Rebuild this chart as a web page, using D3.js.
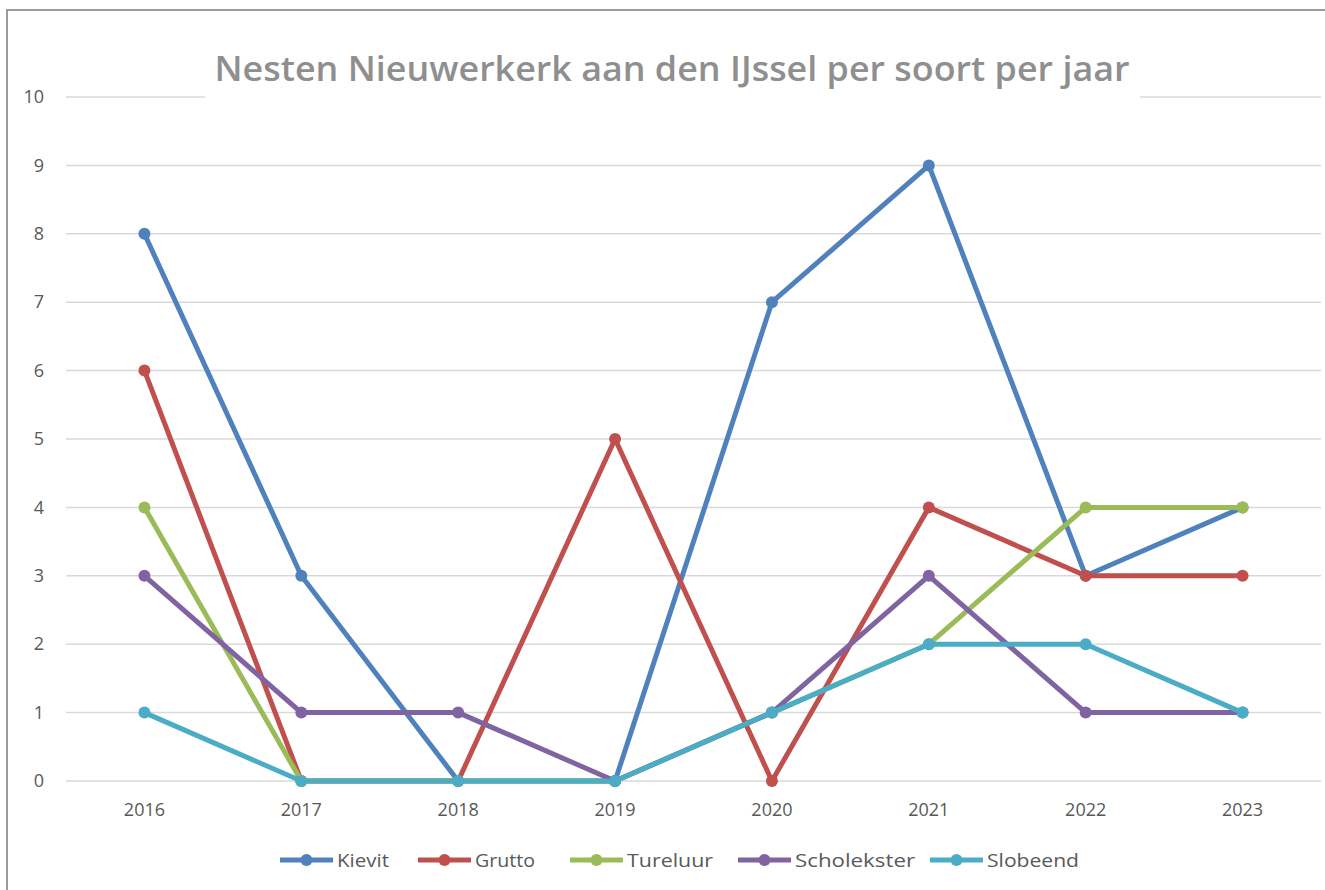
<!DOCTYPE html>
<html>
<head>
<meta charset="utf-8">
<script src="https://cdn.jsdelivr.net/npm/d3@7"></script>
<style>
  body { margin: 0; background: #fff; }
  svg { display: block; }
</style>
</head>
<body>
<svg id="chart"></svg>
<script>
const years = ["2016", "2017", "2018", "2019", "2020", "2021", "2022", "2023"];
const kievit = [8, 3, 0, 0, 7, 9, 3, 4];
const grutto = [6, 0, 0, 5, 0, 4, 3, 3];
const tureluur = [4, 0, 0, 0, 1, 2, 4, 4];
const scholekster = [3, 1, 1, 0, 1, 3, 1, 1];
const slobeend = [1, 0, 0, 0, 1, 2, 2, 1];
const yTicks = [0, 1, 2, 3, 4, 5, 6, 7, 8, 9, 10];

const series = [
  { name: "Kievit", values: kievit, color: "#4f81bd" },
  { name: "Grutto", values: grutto, color: "#c0504d" },
  { name: "Tureluur", values: tureluur, color: "#9bbb59" },
  { name: "Scholekster", values: scholekster, color: "#8064a2" },
  { name: "Slobeend", values: slobeend, color: "#4bacc6" }
];

const width = 1325;
const height = 890;
const margin = { top: 97, right: 4, bottom: 109, left: 66 };

const svg = d3.select("#chart").attr("width", width).attr("height", height);

// chart border
svg.append("rect")
  .attr("x", 7).attr("y", 10)
  .attr("width", width + 20).attr("height", height + 20)
  .attr("fill", "#fff")
  .attr("stroke", "#9a9a9a")
  .attr("stroke-width", 2);

const x = d3.scaleBand()
  .domain(years)
  .range([margin.left, width - margin.right]);

const y = d3.scaleLinear()
  .domain([0, 10])
  .range([height - margin.bottom, margin.top]);

// gridlines
svg.append("g")
  .selectAll("line")
  .data(yTicks)
  .join("line")
  .attr("x1", margin.left)
  .attr("x2", width - margin.right)
  .attr("y1", d => y(d))
  .attr("y2", d => y(d))
  .attr("stroke", "#d9d9d9")
  .attr("stroke-width", 1.5);

// y axis labels
const yAxis = d3.axisLeft(y).tickValues(yTicks).tickSize(0).tickPadding(22);
svg.append("g")
  .attr("transform", `translate(${margin.left},0)`)
  .call(yAxis)
  .call(g => g.select(".domain").remove())
  .call(g => g.selectAll("text")
    .attr("fill", "#595959")
    .style("font-family", "'Open Sans', sans-serif")
    .style("font-size", "18px"));

// x axis labels
const xAxis = d3.axisBottom(x).tickSize(0).tickPadding(22);
svg.append("g")
  .attr("transform", `translate(0,${height - margin.bottom})`)
  .call(xAxis)
  .call(g => g.select(".domain").remove())
  .call(g => g.selectAll("text")
    .attr("fill", "#595959")
    .style("font-family", "'Open Sans', sans-serif")
    .style("font-size", "18px"));

// title with white backing
const titleG = svg.append("g");
const titleBg = titleG.append("rect").attr("fill", "#fff");
const title = titleG.append("text")
  .attr("x", 672)
  .attr("y", 81)
  .attr("text-anchor", "middle")
  .attr("fill", "#8f8f8f")
  .style("font-family", "'Open Sans', sans-serif")
  .style("font-weight", "600")
  .style("font-size", "34px")
  .attr("textLength", 915)
  .attr("lengthAdjust", "spacingAndGlyphs")
  .text("Nesten Nieuwerkerk aan den IJssel per soort per jaar");
const tb = title.node().getBBox();
titleBg.attr("x", 205).attr("y", tb.y).attr("width", 1140 - 205).attr("height", tb.height + 10);

// lines and markers
const line = d3.line()
  .x((d, i) => x(years[i]) + x.bandwidth() / 2)
  .y(d => y(d));

series.forEach(s => {
  const g = svg.append("g");
  g.append("path")
    .datum(s.values)
    .attr("d", line)
    .attr("fill", "none")
    .attr("stroke", s.color)
    .attr("stroke-width", 5)
    .attr("stroke-linejoin", "round");
  g.selectAll("circle")
    .data(s.values)
    .join("circle")
    .attr("cx", (d, i) => x(years[i]) + x.bandwidth() / 2)
    .attr("cy", d => y(d))
    .attr("r", 6)
    .attr("fill", s.color);
});

// legend
const legendX = [280, 418, 570, 738, 930];
const legendW = [52, 60, 86, 120, 92];
const legend = svg.append("g");
series.forEach((s, i) => {
  const lg = legend.append("g").attr("transform", `translate(${legendX[i]},860)`);
  lg.append("line")
    .attr("x1", 0).attr("x2", 53)
    .attr("stroke", s.color)
    .attr("stroke-width", 5);
  lg.append("circle")
    .attr("cx", 26.5).attr("cy", 0).attr("r", 6)
    .attr("fill", s.color);
  lg.append("text")
    .attr("x", 57)
    .attr("y", 7)
    .attr("fill", "#595959")
    .style("font-family", "'Open Sans', sans-serif")
    .style("font-size", "19px")
    .attr("textLength", legendW[i])
    .attr("lengthAdjust", "spacingAndGlyphs")
    .text(s.name);
});
</script>
</body>
</html>
